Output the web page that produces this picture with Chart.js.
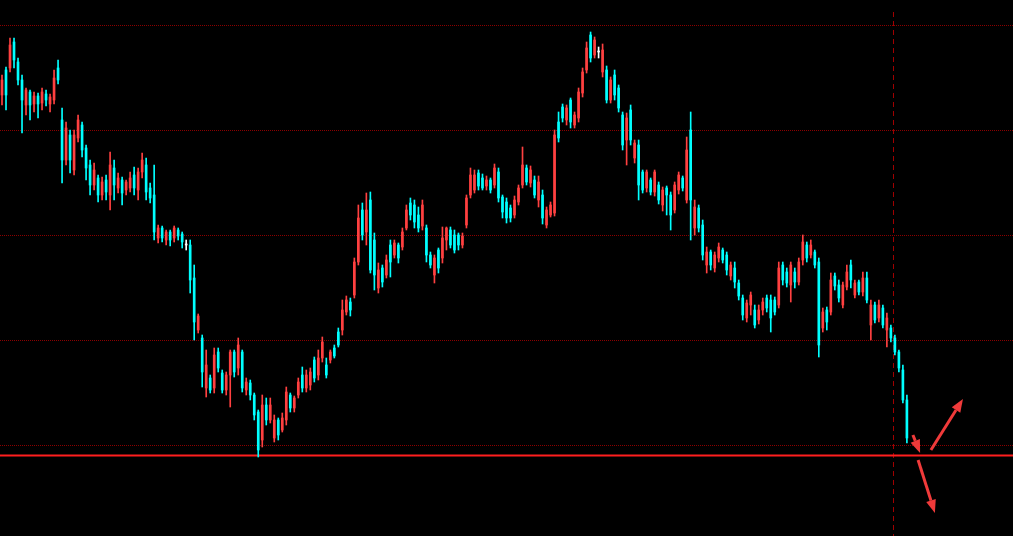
<!DOCTYPE html>
<html>
<head>
<meta charset="utf-8">
<script src="https://cdn.jsdelivr.net/npm/chart.js@4.4.1/dist/chart.umd.min.js"></script>
<style>
  html, body { margin: 0; padding: 0; background: #000; overflow: hidden; }
</style>
</head>
<body>
<canvas id="kline" width="1013" height="536"></canvas>
<script>
// daily candles, oldest first
const opens = [
  4.41,4.66,4.68,4.94,4.74,4.56,4.31,4.44,4.32,4.40,
  4.33,4.42,4.32,4.36,4.68,4.16,3.76,4.01,3.66,3.98,
  4.11,3.88,3.71,3.51,3.58,3.41,3.56,3.41,3.68,3.48,
  3.56,3.46,3.48,3.61,3.46,3.64,3.71,3.48,3.41,2.98,
  3.08,2.96,3.04,2.98,3.06,3.02,2.91,2.91,2.58,2.06,
  1.98,1.48,1.58,1.48,1.84,1.63,1.46,1.61,1.84,1.68,
  1.84,1.46,1.53,1.41,1.24,0.96,1.31,1.16,0.98,1.16,
  1.06,1.16,1.41,1.28,1.41,1.61,1.48,1.51,1.76,1.61,
  1.78,1.71,1.76,1.88,2.04,2.06,2.24,2.34,2.41,2.74,
  3.26,3.04,3.36,2.96,2.48,2.68,2.61,2.91,2.81,2.91,
  2.89,3.08,3.33,3.31,3.21,3.10,3.08,2.81,2.61,2.86,
  2.78,2.96,3.06,3.01,3.01,2.91,3.11,3.41,3.46,3.63,
  3.58,3.50,3.56,3.51,3.64,3.39,3.34,3.28,3.21,3.34,
  3.51,3.68,3.53,3.56,3.36,3.41,3.11,3.21,3.23,4.14,
  4.29,4.16,4.36,4.11,4.18,4.43,4.66,5.01,4.81,4.84,
  4.64,4.66,4.36,4.61,4.48,4.21,3.96,4.26,3.78,3.91,
  3.64,3.48,3.56,3.44,3.51,3.31,3.48,3.41,3.26,3.46,
  3.58,3.36,4.06,3.08,3.28,3.11,2.71,2.84,2.68,2.78,
  2.86,2.81,2.60,2.68,2.53,2.38,2.18,2.31,2.26,2.16,
  2.26,2.38,2.36,2.36,2.31,2.71,2.64,2.51,2.64,2.54,
  2.76,2.91,2.81,2.84,2.74,2.08,2.26,2.24,2.60,2.51,
  2.31,2.49,2.71,2.41,2.54,2.44,2.58,2.11,2.31,2.18,
  2.28,2.06,2.08,1.98,1.84,1.66,1.36
];
const closes = [
  4.56,4.41,4.91,4.76,4.56,4.36,4.46,4.31,4.40,4.32,
  4.44,4.36,4.39,4.58,4.56,3.76,4.08,3.76,4.01,4.16,
  3.86,3.68,3.51,3.66,3.41,3.54,3.44,3.71,3.51,3.58,
  3.43,3.54,3.58,3.48,3.64,3.76,3.44,3.38,3.04,3.08,
  2.98,3.04,2.96,3.08,3.00,2.94,2.91,2.56,2.14,2.20,
  1.64,1.71,1.46,1.81,1.68,1.46,1.61,1.84,1.64,1.91,
  1.48,1.54,1.41,1.21,0.86,1.31,1.16,1.31,1.16,1.01,
  1.18,1.44,1.28,1.38,1.54,1.48,1.61,1.64,1.58,1.78,
  1.94,1.61,1.84,1.80,1.91,2.26,2.36,2.26,2.74,3.18,
  3.01,3.26,2.66,2.61,2.66,2.54,2.76,2.74,2.93,2.78,
  3.04,3.26,3.21,3.14,3.08,3.31,2.81,2.71,2.78,2.68,
  2.98,3.08,2.91,2.86,2.91,3.00,3.38,3.61,3.61,3.50,
  3.48,3.56,3.46,3.68,3.38,3.24,3.18,3.18,3.36,3.48,
  3.71,3.54,3.66,3.41,3.54,3.18,3.26,3.31,4.01,3.98,
  4.18,4.28,4.14,4.21,4.44,4.64,4.88,4.78,4.96,4.84,
  4.86,4.36,4.56,4.41,4.28,3.91,4.18,3.96,3.93,3.51,
  3.46,3.64,3.44,3.64,3.36,3.46,3.41,3.21,3.51,3.61,
  3.48,3.86,3.36,3.29,3.08,2.81,2.84,2.71,2.81,2.89,
  2.76,2.66,2.71,2.54,2.40,2.21,2.33,2.41,2.11,2.26,
  2.34,2.28,2.18,2.24,2.68,2.56,2.53,2.71,2.54,2.74,
  2.94,2.78,2.91,2.71,1.91,2.24,2.14,2.56,2.50,2.38,
  2.51,2.64,2.56,2.53,2.44,2.58,2.36,2.31,2.16,2.31,
  2.11,2.18,1.98,1.84,1.68,1.36,0.98
];
const highs = [
  4.61,4.69,4.98,4.98,4.78,4.61,4.48,4.46,4.44,4.43,
  4.48,4.46,4.42,4.66,4.76,4.28,4.14,4.06,4.06,4.21,
  4.14,3.91,3.76,3.73,3.61,3.59,3.61,3.84,3.76,3.63,
  3.59,3.56,3.64,3.69,3.68,3.83,3.78,3.53,3.71,3.11,
  3.10,3.06,3.06,3.10,3.08,3.04,2.96,2.96,2.71,2.22,
  2.01,1.86,1.61,1.88,1.88,1.66,1.64,1.86,1.86,1.98,
  1.86,1.58,1.56,1.43,1.26,1.41,1.38,1.38,1.21,1.18,
  1.23,1.49,1.43,1.40,1.58,1.69,1.66,1.68,1.79,1.86,
  1.99,1.78,1.86,1.91,2.08,2.36,2.40,2.38,2.78,3.31,
  3.33,3.43,3.44,3.03,2.73,2.71,2.81,2.96,2.96,2.93,
  3.08,3.31,3.38,3.36,3.29,3.36,3.11,2.84,2.81,2.88,
  3.09,3.09,3.09,3.06,3.03,3.03,3.41,3.68,3.66,3.66,
  3.62,3.60,3.58,3.72,3.68,3.41,3.38,3.31,3.40,3.51,
  3.89,3.71,3.70,3.60,3.60,3.46,3.29,3.34,4.06,4.24,
  4.32,4.31,4.38,4.24,4.48,4.68,4.94,5.04,4.99,4.89,
  4.92,4.70,4.59,4.66,4.51,4.24,4.23,4.31,3.96,3.96,
  3.66,3.66,3.58,3.66,3.54,3.49,3.50,3.44,3.54,3.64,
  3.60,3.99,4.24,3.36,3.31,3.16,2.89,2.86,2.84,2.93,
  2.88,2.84,2.74,2.74,2.56,2.41,2.36,2.44,2.31,2.31,
  2.38,2.41,2.41,2.39,2.74,2.74,2.68,2.74,2.68,2.78,
  3.01,2.94,2.96,2.86,2.78,2.28,2.29,2.63,2.63,2.56,
  2.54,2.71,2.76,2.56,2.56,2.64,2.64,2.36,2.34,2.36,
  2.31,2.23,2.11,2.01,1.86,1.71,1.41
];
const lows = [
  4.31,4.26,4.64,4.68,4.51,4.03,4.21,4.16,4.24,4.18,
  4.26,4.30,4.24,4.32,4.52,3.53,3.71,3.63,3.61,3.94,
  3.79,3.56,3.41,3.46,3.34,3.36,3.36,3.26,3.36,3.43,
  3.31,3.41,3.44,3.41,3.36,3.58,3.36,3.33,2.96,2.93,
  2.94,2.91,2.90,2.94,2.96,2.88,2.86,2.43,1.96,2.03,
  1.49,1.39,1.43,1.43,1.64,1.43,1.41,1.29,1.59,1.61,
  1.44,1.41,1.36,1.16,0.79,0.89,1.11,1.13,0.94,0.96,
  1.04,1.11,1.24,1.24,1.38,1.44,1.44,1.46,1.54,1.56,
  1.74,1.58,1.73,1.78,1.89,2.01,2.21,2.20,2.38,2.71,
  2.96,2.91,2.63,2.46,2.43,2.49,2.58,2.59,2.78,2.73,
  2.86,3.06,3.16,3.08,3.04,3.06,2.74,2.68,2.53,2.63,
  2.73,2.86,2.88,2.83,2.86,2.88,3.08,3.38,3.43,3.46,
  3.46,3.46,3.43,3.48,3.34,3.18,3.13,3.14,3.18,3.31,
  3.48,3.51,3.49,3.38,3.29,3.12,3.08,3.19,3.20,3.94,
  4.14,4.11,4.08,4.08,4.14,4.39,4.63,4.74,4.78,4.78,
  4.59,4.33,4.33,4.36,4.24,3.86,3.71,3.91,3.73,3.36,
  3.43,3.44,3.41,3.40,3.32,3.25,3.21,3.06,3.23,3.42,
  3.45,3.33,2.96,3.01,3.04,2.76,2.63,2.66,2.64,2.74,
  2.73,2.61,2.56,2.48,2.36,2.16,2.14,2.21,2.08,2.12,
  2.21,2.24,2.04,2.21,2.28,2.51,2.49,2.34,2.48,2.51,
  2.71,2.74,2.78,2.68,1.79,2.04,2.06,2.21,2.46,2.34,
  2.28,2.46,2.48,2.38,2.41,2.40,2.33,1.96,2.13,2.14,
  2.08,1.89,1.94,1.81,1.64,1.33,0.93
];

const slotCount = 253;                               // time slots incl. empty space on the right
const gridLevels = [0.91, 1.96, 3.01, 4.06, 5.11];
const supportLevel = 0.805;
const markerIndex = 223;
const arrowMarks = [
  { from: [232, 0.86], to: [240, 1.37] },
  { from: [228.8, 0.76], to: [233, 0.23] },
  { from: [227.5, 1.01], to: [229.3, 0.83] }
];

const labels = Array.from({ length: slotCount }, (_, i) => 'K' + (i + 1));

const UP = '#ff4040', DOWN = '#00ffff', FLAT = '#ffffff';
const candleColor = i => closes[i] > opens[i] ? UP : (closes[i] < opens[i] ? DOWN : FLAT);

function drawArrow(ctx, x1, y1, x2, y2) {
    const ang = Math.atan2(y2 - y1, x2 - x1);
    const head = 13, half = 5;
    const bx = x2 - head * Math.cos(ang), by = y2 - head * Math.sin(ang);
    ctx.lineWidth = 3;
    ctx.beginPath(); ctx.moveTo(x1, y1); ctx.lineTo(bx, by); ctx.stroke();
    ctx.beginPath();
    ctx.moveTo(x2, y2);
    ctx.lineTo(bx + half * Math.sin(ang), by - half * Math.cos(ang));
    ctx.lineTo(bx - half * Math.sin(ang), by + half * Math.cos(ang));
    ctx.closePath(); ctx.fill();
}

const overlay = {
    id: 'overlay',
    beforeDraw(chart) {
        const { ctx, width, height } = chart;
        ctx.save();
        ctx.fillStyle = '#000';
        ctx.fillRect(0, 0, width, height);
        ctx.restore();
    },
    beforeDatasetsDraw(chart) {
        const { ctx, chartArea, scales: { x, y } } = chart;
        ctx.save();
        // current-bar marker
        const mx = Math.round(x.getPixelForValue(markerIndex)) - 1.5;
        ctx.strokeStyle = '#a00000';
        ctx.lineWidth = 1;
        ctx.setLineDash([5, 4]);
        ctx.beginPath(); ctx.moveTo(mx, chartArea.top + 12); ctx.lineTo(mx, chartArea.bottom); ctx.stroke();
        ctx.setLineDash([]);
        // support line
        const sy = y.getPixelForValue(supportLevel);
        ctx.strokeStyle = '#ff1e1e';
        ctx.lineWidth = 2;
        ctx.beginPath(); ctx.moveTo(chartArea.left, sy); ctx.lineTo(chartArea.right, sy); ctx.stroke();
        ctx.restore();
    },
    afterDatasetsDraw(chart) {
        const { ctx, scales: { x, y } } = chart;
        ctx.save();
        ctx.strokeStyle = '#f03a3a';
        ctx.fillStyle = '#f03a3a';
        arrowMarks.forEach(a => {
            drawArrow(ctx,
                x.getPixelForValue(a.from[0]), y.getPixelForValue(a.from[1]),
                x.getPixelForValue(a.to[0]), y.getPixelForValue(a.to[1]));
        });
        ctx.restore();
    }
};

new Chart(document.getElementById('kline'), {
    type: 'bar',
    data: {
        labels: labels,
        datasets: [
            {
                label: 'Body',
                data: opens.map((o, i) => [o, closes[i]]),
                backgroundColor: ctx => candleColor(ctx.dataIndex),
                barThickness: 2,
                minBarLength: 1,
                borderWidth: 0,
                grouped: false
            },
            {
                label: 'Wick',
                data: lows.map((l, i) => [l, highs[i]]),
                backgroundColor: ctx => candleColor(ctx.dataIndex),
                barThickness: 1,
                borderWidth: 0,
                grouped: false
            }
        ]
    },
    options: {
        responsive: false,
        animation: false,
        layout: { padding: 0 },
        plugins: { legend: { display: false }, tooltip: { enabled: false } },
        scales: {
            x: { display: false, offset: true },
            y: {
                min: 0, max: 5.36,
                afterBuildTicks: scale => { scale.ticks = gridLevels.map(v => ({ value: v })); },
                ticks: { display: false },
                grid: { color: '#8b0000', drawTicks: false, lineWidth: 1 },
                border: { display: false, dash: [1, 1] }
            }
        }
    },
    plugins: [overlay]
});
</script>
</body>
</html>
